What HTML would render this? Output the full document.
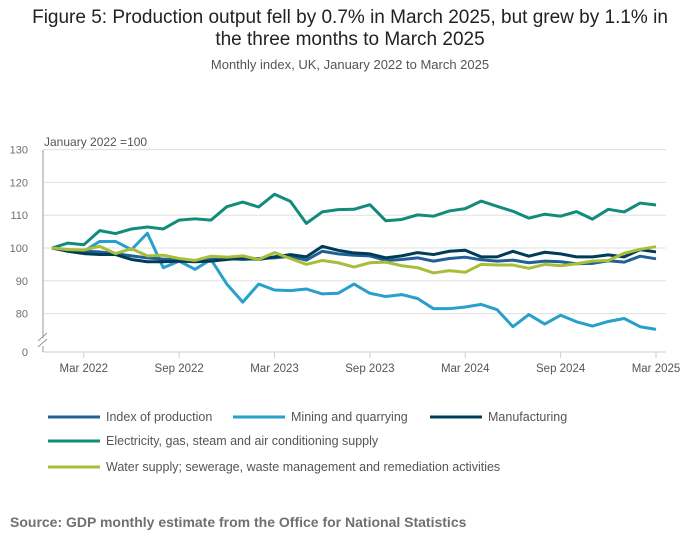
<!DOCTYPE html>
<html><head><meta charset="utf-8"><style>
body{margin:0;background:#fff;font-family:"Liberation Sans",sans-serif;}
#wrap{position:relative;width:700px;height:549px;overflow:hidden}
.t{position:absolute;left:0;width:700px;text-align:center}
</style></head><body><div id="wrap">
<div class="t" style="top:7px;font-size:19px;line-height:22px;color:#222">Figure 5: Production output fell by 0.7% in March 2025, but grew by 1.1% in<br>the three months to March 2025</div>
<div class="t" style="top:57px;font-size:13px;color:#555">Monthly index, UK, January 2022 to March 2025</div>
<svg id="c" width="700" height="549" style="position:absolute;left:0;top:0"></svg>
<div style="position:absolute;left:10px;top:514px;font-size:14px;font-weight:bold;color:#707070">Source: GDP monthly estimate from the Office for National Statistics</div>
</div>
<script>
const months=39;
const seriesNames=["Index of production","Mining and quarrying","Manufacturing","Electricity, gas, steam and air conditioning supply","Water supply; sewerage, waste management and remediation activities"];
const indexProd=[100,99.2,99,98.8,98.3,97.6,97,96.6,96.3,96.2,96.5,96.8,96.5,96.8,97,97.5,96.3,99,98.2,97.8,97.6,96.2,96.5,97,96,96.8,97.2,96.4,96,96.3,95.5,96,95.8,95.2,95.3,96.1,95.7,97.5,96.7];
const mining=[100,99.5,99,102,102,99.5,104.5,94,96,93.5,96.5,89,83.5,89,87.2,87,87.5,86,86.2,89,86.2,85.2,85.8,84.6,81.5,81.5,82,82.8,81.2,76,79.7,76.8,79.5,77.5,76.2,77.6,78.5,76,75.2];
const manufacturing=[100,99,98.3,98,98,96.5,95.8,95.8,96,95.8,96,96.5,97,96.5,97.3,98,97.3,100.5,99.3,98.5,98.2,97,97.6,98.6,98,99,99.3,97.3,97.3,99,97.5,98.7,98.2,97.3,97.3,97.9,97.3,99.5,98.8];
const electricity=[100,101.5,101,105.3,104.4,105.8,106.4,105.8,108.5,108.9,108.5,112.6,114,112.5,116.4,114.2,107.5,111,111.7,111.8,113.2,108.3,108.7,110.1,109.7,111.3,112,114.3,112.7,111.2,109.1,110.3,109.7,111.1,108.8,111.8,111,113.7,113.1];
const water=[100,99.5,99.4,100.5,98.3,99.8,97.6,97.8,96.8,96.2,97.5,97.2,97.6,96.5,98.6,96.8,95,96.2,95.5,94.2,95.5,95.7,94.6,94,92.4,93.1,92.6,95,94.8,94.8,93.8,95,94.6,95.2,96,96.2,98.4,99.6,100.4];
const yTicks=[80,90,100,110,120,130];
const xTickLabels=["Mar 2022","Sep 2022","Mar 2023","Sep 2023","Mar 2024","Sep 2024","Mar 2025"];
const xTickIdx=[2,8,14,20,26,32,38];
const colors=["#206095","#27a0cc","#003c57","#118c7b","#a8bd3a"];
const NS="http://www.w3.org/2000/svg",svg=document.getElementById('c');
const x=i=>52+i*(656-52)/38;
const y=v=>248-(v-100)*3.28;
function el(t,a,p){const e=document.createElementNS(NS,t);for(const k in a)e.setAttribute(k,a[k]);(p||svg).appendChild(e);return e;}
yTicks.forEach(v=>{
 const g=el('line',{x1:43,x2:666,y1:y(v),y2:y(v),stroke:'#e0e0e0','stroke-width':1});
 
 
 const t=el('text',{x:28,y:y(v)+4,'font-size':11,fill:'#707070','text-anchor':'end'});t.textContent=v;
 
 
});
const z=el('text',{x:28,y:356,'font-size':11,fill:'#707070','text-anchor':'end'});z.textContent='0';


const ya=el('path',{d:'M43,150V338M43,346V352',stroke:'#999',fill:'none'});


el('path',{d:'M38,341L47,333M38,347L47,339',stroke:'#999',fill:'none'});
const xa=el('line',{x1:43,x2:666,y1:352,y2:352,stroke:'#c5d2e6'});


const yt=el('text',{x:44,y:146,'font-size':12,fill:'#555'});yt.textContent='January 2022 =100';


xTickIdx.forEach((i,k)=>{
 el('line',{x1:x(i),x2:x(i),y1:352,y2:358,stroke:'#c5d2e6'});
 const t=el('text',{x:x(i),y:372,'font-size':11.5,fill:'#555','text-anchor':'middle'});t.textContent=xTickLabels[k];
 
 
});
const data=[indexProd,mining,manufacturing,electricity,water];
const order=[3,1,0,2,4];
order.forEach(s=>{
 const p=el('polyline',{points:data[s].map((v,i)=>x(i)+','+y(v)).join(' '),fill:'none',stroke:colors[s],'stroke-width':3,'stroke-linejoin':'round'});
 
 
});
const legPos=[[48,417],[233,417],[430,417],[48,441],[48,467]];
seriesNames.forEach((n,s)=>{
 const [lx,ly]=legPos[s];
 const g=el('g',{});
 
 
 el('line',{x1:lx,x2:lx+52,y1:ly,y2:ly,stroke:colors[s],'stroke-width':3},g);
 const t=el('text',{x:lx+58,y:ly+4,'font-size':12.5,fill:'#555'},g);t.textContent=n;
});
</script></body></html>
